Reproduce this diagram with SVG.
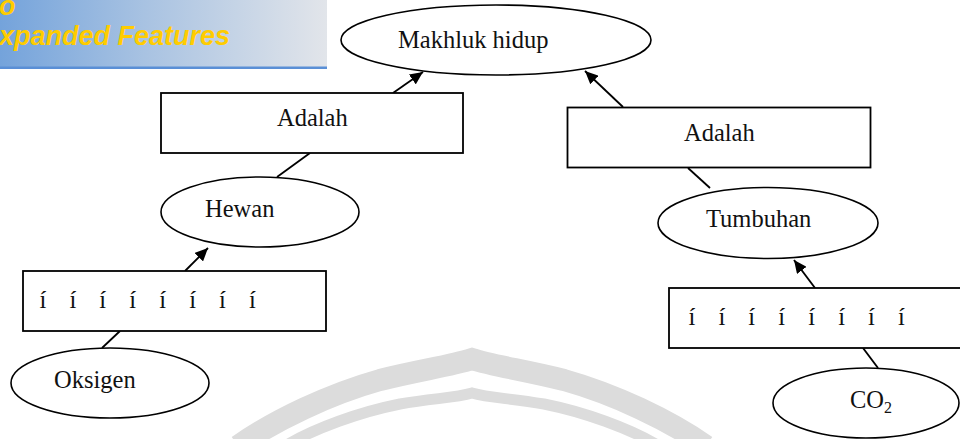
<svg xmlns="http://www.w3.org/2000/svg" width="960" height="439" viewBox="0 0 960 439">
  <defs>
    <linearGradient id="bannerFill" x1="0" y1="0" x2="1" y2="0">
      <stop offset="0" stop-color="#74a3db"/>
      <stop offset="0.45" stop-color="#a9c3e2"/>
      <stop offset="1" stop-color="#e2e5ea"/>
    </linearGradient>
    <marker id="arrow" markerUnits="userSpaceOnUse" markerWidth="14" markerHeight="12" refX="13" refY="6" orient="auto">
      <path d="M0,0 L13,6 L0,12 Z" fill="#000"/>
    </marker>
    <style>
      .box { fill: #fff; stroke: #000; stroke-width: 1.8; }
      .oval { fill: #fff; stroke: #000; stroke-width: 1.6; }
      .lbl { font-family: "Liberation Serif", "Times New Roman", serif; font-size: 24.5px; fill: #111; }
      .dots { word-spacing: 17px; }
      .edge { stroke: #000; stroke-width: 1.8; fill: none; }
      .arr { marker-end: url(#arrow); }
      .wm { fill: none; stroke: #dcdcdc; stroke-linecap: butt; }
      .banner-text { font-family: "Liberation Sans", Arial, sans-serif; font-weight: bold; font-style: italic; font-size: 27px; fill: #ffcc00; }
    </style>
  </defs>

  <!-- faint background emblem -->
  <g id="emblem">
    <path class="wm" stroke-width="22" d="M238,446 C275,420 330,394 380,380 C420,370 450,366 472,359 C494,366 524,370 564,380 C614,394 669,420 706,446"/>
    <path class="wm" stroke-width="11" d="M285,446 C315,428 360,412 400,404 C435,398 455,398 472,393 C489,398 509,398 544,404 C584,412 629,428 659,446"/>
  </g>

  <!-- header strip in the corner -->
  <g id="banner">
    <rect x="0" y="0" width="327" height="67" fill="url(#bannerFill)"/>
    <rect x="0" y="66.5" width="327" height="2.5" fill="#5a8fd6"/>
    <text class="banner-text" x="-1" y="15">o</text>
    <text class="banner-text" x="-1" y="45">xpanded Features</text>
  </g>

  <!-- connectors -->
  <g id="connectors">
    <line class="edge" x1="102" y1="348" x2="120" y2="331"/>
    <line class="edge arr" x1="185" y1="271" x2="208" y2="248"/>
    <line class="edge" x1="277" y1="177" x2="310" y2="153"/>
    <line class="edge arr" x1="393" y1="93" x2="423" y2="72"/>
    <line class="edge" x1="878" y1="368" x2="863" y2="348"/>
    <line class="edge arr" x1="815" y1="288" x2="794" y2="260"/>
    <line class="edge" x1="710" y1="188" x2="688" y2="168"/>
    <line class="edge arr" x1="623" y1="107" x2="585" y2="71"/>
  </g>

  <g id="makhluk-hidup">
    <ellipse class="oval" cx="496" cy="40" rx="155" ry="35"/>
    <text class="lbl" x="398" y="48">Makhluk hidup</text>
  </g>

  <g id="adalah-kiri">
    <rect class="box" x="161" y="93" width="302" height="60"/>
    <text class="lbl" x="277" y="126">Adalah</text>
  </g>

  <g id="adalah-kanan">
    <rect class="box" x="567.5" y="107.5" width="303" height="60"/>
    <text class="lbl" x="684" y="141">Adalah</text>
  </g>

  <g id="hewan">
    <ellipse class="oval" cx="260" cy="212" rx="99" ry="35"/>
    <text class="lbl" x="205" y="217">Hewan</text>
  </g>

  <g id="tumbuhan">
    <ellipse class="oval" cx="768" cy="223" rx="110" ry="35.5"/>
    <text class="lbl" x="706" y="227">Tumbuhan</text>
  </g>

  <g id="isian-kiri">
    <rect class="box" x="23" y="271" width="303" height="60"/>
    <text class="lbl dots" x="39.5" y="308">í í í í í í í í</text>
  </g>

  <g id="isian-kanan">
    <rect class="box" x="669" y="288" width="303" height="60"/>
    <text class="lbl dots" x="688.5" y="325">í í í í í í í í</text>
  </g>

  <g id="oksigen">
    <ellipse class="oval" cx="110" cy="383" rx="99" ry="35"/>
    <text class="lbl" x="54" y="388">Oksigen</text>
  </g>

  <g id="co2">
    <ellipse class="oval" cx="866" cy="403" rx="93" ry="35"/>
    <text class="lbl" x="850" y="408">CO<tspan font-size="16" dy="5">2</tspan></text>
  </g>
</svg>
